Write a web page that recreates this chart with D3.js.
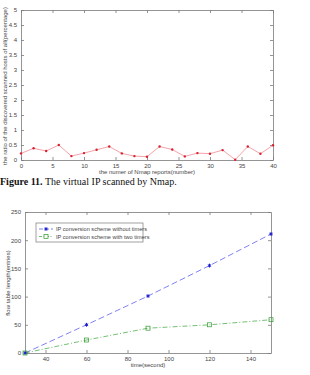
<!DOCTYPE html>
<html>
<head>
<meta charset="utf-8">
<script src="https://cdn.jsdelivr.net/npm/d3@7"></script>
<style>
  body { margin: 0; background: #fff; }
  svg { display: block; }
</style>
</head>
<body>
<svg width="310" height="375"></svg>
<script>
// chart 1: Nmap reports
const nmapReports = [0, 2, 4, 6, 8, 10, 12, 14, 16, 18, 20, 22, 24, 26, 28, 30, 32, 34, 36, 38, 40];
const discoveredRatio = [0.22, 0.39, 0.30, 0.50, 0.13, 0.23, 0.34, 0.45, 0.22, 0.13, 0.11, 0.45, 0.35, 0.12, 0.23, 0.21, 0.33, 0.01, 0.45, 0.21, 0.49];
const topXTicks = [0, 5, 10, 15, 20, 25, 30, 35, 40];
const topYTicks = [0, 0.5, 1, 1.5, 2, 2.5, 3, 3.5, 4, 4.5, 5];

// chart 2: flow table length
const timeSec = [30, 60, 90, 120, 150];
const withoutTimers = [0, 50, 101, 155, 211];
const withTwoTimers = [0, 23, 44, 50, 59];
const botXTicks = [40, 60, 80, 100, 120, 140];
const botYTicks = [0, 50, 100, 150, 200, 250];
const seriesNames = ["IP conversion scheme without timers", "IP conversion scheme with two timers"];

const svg = d3.select("svg");
const axisColor = "#7a7a7a";
const tickFont = "Liberation Sans, Arial, sans-serif";

// draw a matlab style box with inward ticks on every side
function drawBox(g, x, y, xTicks, yTicks, fmtY) {
	const [x0, x1] = x.range();
	const [y0, y1] = y.range();
	const tk = 3;

	g.append("g")
		.attr("transform", `translate(0, ${y0})`)
		.call(d3.axisBottom(x).tickValues(xTicks).tickSizeInner(-tk).tickSizeOuter(0).tickPadding(4))
	g.append("g")
		.attr("transform", `translate(0, ${y1})`)
		.call(d3.axisTop(x).tickValues(xTicks).tickSizeInner(-tk).tickSizeOuter(0).tickFormat(""))
	g.append("g")
		.attr("transform", `translate(${x0}, 0)`)
		.call(d3.axisLeft(y).tickValues(yTicks).tickSizeInner(-tk).tickSizeOuter(0).tickPadding(4).tickFormat(fmtY))
	g.append("g")
		.attr("transform", `translate(${x1}, 0)`)
		.call(d3.axisRight(y).tickValues(yTicks).tickSizeInner(-tk).tickSizeOuter(0).tickFormat(""))

	g.selectAll(".domain, .tick line").attr("stroke", axisColor).attr("stroke-width", 0.8)
	g.selectAll(".tick text")
		.attr("fill", "#444")
		.style("font-family", tickFont)
		.style("font-size", "6px")
}

// ---- top chart ----
const xTop = d3.scaleLinear().domain([0, 40]).range([21, 273]);
const yTop = d3.scaleLinear().domain([0, 5]).range([160, 10]);
const gTop = svg.append("g");
drawBox(gTop, xTop, yTop, topXTicks, topYTicks, d => d);

const topData = nmapReports.map((d, i) => [d, discoveredRatio[i]]);
gTop.append("path")
	.datum(topData)
	.attr("fill", "none")
	.attr("stroke", "#f08a94")
	.attr("stroke-width", 0.8)
	.attr("d", d3.line().x(d => xTop(d[0])).y(d => yTop(d[1])))
gTop.selectAll("circle.pt")
	.data(topData)
	.enter()
	.append("circle")
		.attr("class", "pt")
		.attr("cx", d => xTop(d[0]))
		.attr("cy", d => yTop(d[1]))
		.attr("r", 1.2)
		.attr("fill", "#d8202e")

gTop.append("text")
	.attr("x", 147)
	.attr("y", 174)
	.attr("text-anchor", "middle")
	.attr("fill", "#444")
	.style("font-family", tickFont)
	.style("font-size", "6px")
	.text("the numer of Nmap reports(number)")
gTop.append("text")
	.attr("transform", "translate(7, 86) rotate(-90)")
	.attr("text-anchor", "middle")
	.attr("fill", "#444")
	.style("font-family", tickFont)
	.style("font-size", "6px")
	.text("the ratio of the discovered scanned hosts of all(percentage)")

// caption
const cap = svg.append("text")
	.attr("x", 0)
	.attr("y", 185)
	.style("font-family", "Liberation Serif, Times New Roman, serif")
	.style("font-size", "10px")
	.attr("fill", "#111")
cap.append("tspan").style("font-weight", "bold").text("Figure 11.")
cap.append("tspan").text(" The virtual IP scanned by Nmap.")

// ---- bottom chart ----
const xBot = d3.scaleLinear().domain([30, 150]).range([25, 271]);
const yBot = d3.scaleLinear().domain([0, 250]).range([353, 212]);
const gBot = svg.append("g");
drawBox(gBot, xBot, yBot, botXTicks, botYTicks, d => d);

const line = d3.line().x(d => xBot(d[0])).y(d => yBot(d[1]));
const s1 = timeSec.map((t, i) => [t, withoutTimers[i]]);
const s2 = timeSec.map((t, i) => [t, withTwoTimers[i]]);

gBot.append("path")
	.datum(s2)
	.attr("fill", "none")
	.attr("stroke", "#3aa33a")
	.attr("stroke-width", 0.7)
	.attr("stroke-dasharray", "5,2,1,2")
	.attr("d", line)
gBot.append("path")
	.datum(s1)
	.attr("fill", "none")
	.attr("stroke", "#4a4ae8")
	.attr("stroke-width", 0.7)
	.attr("stroke-dasharray", "6,3")
	.attr("d", line)

const star = d3.symbol().type(d3.symbolAsterisk).size(10);
gBot.selectAll("path.s1")
	.data(s1)
	.enter()
	.append("path")
		.attr("class", "s1")
		.attr("transform", d => `translate(${xBot(d[0])}, ${yBot(d[1])})`)
		.attr("d", star)
		.attr("stroke", "#1a1ad0")
		.attr("stroke-width", 1)
		.attr("fill", "none")
gBot.selectAll("rect.s2")
	.data(s2)
	.enter()
	.append("rect")
		.attr("class", "s2")
		.attr("x", d => xBot(d[0]) - 2)
		.attr("y", d => yBot(d[1]) - 2)
		.attr("width", 4)
		.attr("height", 4)
		.attr("fill", "none")
		.attr("stroke", "#2e9a2e")
		.attr("stroke-width", 0.7)

// legend
const lg = gBot.append("g").attr("transform", "translate(36, 223)");
lg.append("rect")
	.attr("width", 107)
	.attr("height", 19)
	.attr("fill", "#fff")
	.attr("stroke", axisColor)
	.attr("stroke-width", 0.7)
lg.append("line").attr("x1", 3).attr("x2", 17).attr("y1", 6).attr("y2", 6)
	.attr("stroke", "#4a4ae8").attr("stroke-width", 0.7).attr("stroke-dasharray", "4,2")
lg.append("path").attr("transform", "translate(10, 6)").attr("d", star)
	.attr("stroke", "#1a1ad0").attr("stroke-width", 1).attr("fill", "none")
lg.append("line").attr("x1", 3).attr("x2", 17).attr("y1", 13.5).attr("y2", 13.5)
	.attr("stroke", "#3aa33a").attr("stroke-width", 0.7).attr("stroke-dasharray", "3,1.5,1,1.5")
lg.append("rect").attr("x", 8).attr("y", 11.5).attr("width", 4).attr("height", 4)
	.attr("fill", "#fff").attr("stroke", "#2e9a2e").attr("stroke-width", 0.7)
lg.selectAll("text.lbl")
	.data(seriesNames)
	.enter()
	.append("text")
		.attr("class", "lbl")
		.attr("x", 20)
		.attr("y", (d, i) => 8 + i * 7.5)
		.attr("fill", "#444")
		.style("font-family", tickFont)
		.style("font-size", "5.6px")
		.text(d => d)

gBot.append("text")
	.attr("x", 148)
	.attr("y", 367)
	.attr("text-anchor", "middle")
	.attr("fill", "#444")
	.style("font-family", tickFont)
	.style("font-size", "6px")
	.text("time(second)")
gBot.append("text")
	.attr("transform", "translate(10, 283) rotate(-90)")
	.attr("text-anchor", "middle")
	.attr("fill", "#444")
	.style("font-family", tickFont)
	.style("font-size", "6px")
	.text("flow table length(entries)")
</script>
</body>
</html>
